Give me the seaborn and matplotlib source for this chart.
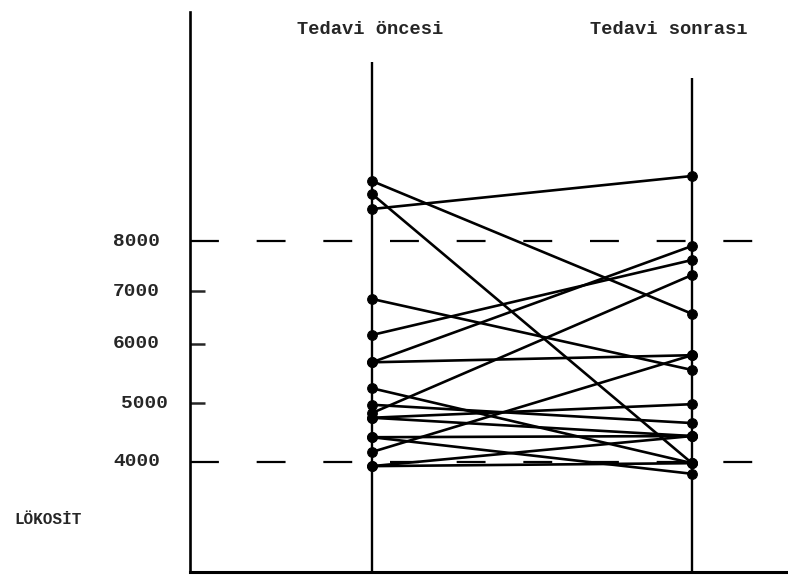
import numpy as np
import pandas as pd
import seaborn as sns
import matplotlib.pyplot as plt
from matplotlib.transforms import blended_transform_factory

# leukocyte counts, before and after treatment (one pair per patient)
oncesi = [8640, 9200, 8940, 6850, 6170, 5690, 5690, 4830, 5250,
          4970, 4750, 4420, 4170, 3930, 3930, 4420, 4750]
sonrasi = [9300, 6570, 3980, 5560, 7620, 7900, 5810, 7320, 3980,
           4660, 4980, 4440, 5810, 4440, 3980, 3800, 4440]
groups = ["Tedavi öncesi", "Tedavi sonrası"]
tick_vals = [8000, 7000, 6000, 5000, 4000]
tick_labels = ["8000", "7000", "6000", "5000", "4000"]
ref_lines = [8000, 4000]

n = len(oncesi)
df = pd.DataFrame({
    "hasta": list(range(n)) * 2,
    "x": [0] * n + [1] * n,
    "lokosit": oncesi + sonrasi,
})

sns.set_style("white")
plt.rcParams["font.family"] = ["Liberation Mono", "DejaVu Sans"]

# hand drawn axis: unequal spacing between the ticks
knot_v = [0, 4000, 5000, 6000, 7000, 8000, 20000]
knot_u = [-126, 110, 169, 228, 281, 331, 931]
fwd = lambda v: np.interp(v, knot_v, knot_u)
inv = lambda u: np.interp(u, knot_u, knot_v)

fig = plt.figure(figsize=(7.88, 5.77), dpi=100)
ax = fig.add_axes([190 / 788, 5 / 577, 598 / 788, 560 / 577])
ax.set_yscale("function", functions=(fwd, inv))
ax.set_ylim(inv(0), inv(560))
ax.set_xlim(-182 / 320, 1 + 96 / 320)

# vertical lines for the two groups
ax.vlines(0, inv(0), inv(510), color="black", lw=1.7)
ax.vlines(1, inv(0), inv(494), color="black", lw=1.7)

for v in ref_lines:
    ax.axhline(v, xmax=577 / 598, color="black", lw=1.6, dashes=(13, 17))

sns.lineplot(data=df, x="x", y="lokosit", units="hasta", estimator=None,
             sort=False, color="black", lw=1.9, marker="o", markersize=7,
             markeredgecolor="black", ax=ax, legend=False)

ax.set_xticks([])
ax.set_yticks([7000, 6000, 5000])
ax.set_yticklabels([])
ax.tick_params(axis="y", direction="in", length=11, width=1.8, left=True)
ax.set_xlabel("")
ax.set_ylabel("")

trans = blended_transform_factory(fig.transFigure, ax.transData)
for v, lab in zip(tick_vals, tick_labels):
    xpos = 168 / 788 if lab == "5000" else 160 / 788
    ax.text(xpos, v, lab, transform=trans, ha="right", va="center",
            fontsize=14, fontweight="bold")

fig.text(370 / 788, 1 - 30 / 577, groups[0], ha="center", va="center",
         fontsize=13.5, fontweight="bold")
fig.text(669 / 788, 1 - 30 / 577, groups[1], ha="center", va="center",
         fontsize=13.5, fontweight="bold")
fig.text(14 / 788, 1 - 520 / 577, "LÖKOSİT", ha="left", va="center",
         fontsize=11.5, fontweight="bold")

sns.despine(ax=ax)
ax.spines["left"].set_linewidth(1.9)
ax.spines["bottom"].set_linewidth(2.2)
ax.spines["left"].set_color("black")
ax.spines["bottom"].set_color("black")

fig.savefig("out.png", dpi=100, facecolor="white")
